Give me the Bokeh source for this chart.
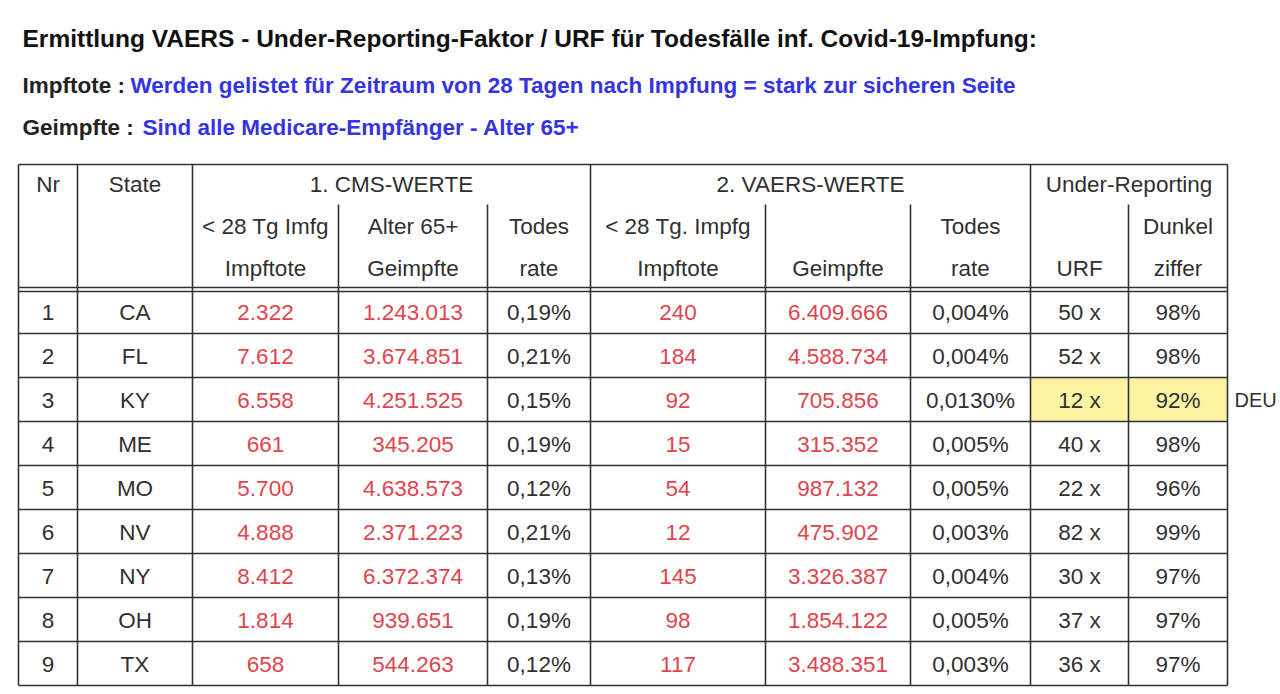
from bokeh.plotting import figure
from bokeh.models import Range1d, ColumnDataSource
from bokeh.core.properties import value
from bokeh.embed import file_html
from bokeh.resources import INLINE

# ---------------- data ----------------
title_text = "Ermittlung VAERS - Under-Reporting-Faktor / URF für Todesfälle inf. Covid-19-Impfung:"
note1_label = "Impftote :"
note1_text = "Werden gelistet für Zeitraum von 28 Tagen nach Impfung = stark zur sicheren Seite"
note2_label = "Geimpfte :"
note2_text = "Sind alle Medicare-Empfänger - Alter 65+"

nr = [1, 2, 3, 4, 5, 6, 7, 8, 9]
states = ["CA", "FL", "KY", "ME", "MO", "NV", "NY", "OH", "TX"]
cms_deaths = [2322, 7612, 6558, 661, 5700, 4888, 8412, 1814, 658]
cms_vaccinated = [1243013, 3674851, 4251525, 345205, 4638573, 2371223, 6372374, 939651, 544263]
cms_rate = [0.19, 0.21, 0.15, 0.19, 0.12, 0.21, 0.13, 0.19, 0.12]
vaers_deaths = [240, 184, 92, 15, 54, 12, 145, 98, 117]
vaers_vaccinated = [6409666, 4588734, 705856, 315352, 987132, 475902, 3326387, 1854122, 3488351]
vaers_rate = ["0,004%", "0,004%", "0,0130%", "0,005%", "0,005%", "0,003%", "0,004%", "0,005%", "0,003%"]
urf = [50, 52, 12, 40, 22, 82, 30, 37, 36]
dunkelziffer = [98, 98, 92, 98, 96, 99, 97, 97, 97]
highlight_state = "KY"
highlight_label = "DEU"

group_headers = ["Nr", "State", "1. CMS-WERTE", "2. VAERS-WERTE", "Under-Reporting"]
sub_header_top = ["< 28 Tg Imfg", "Alter 65+", "Todes", "< 28 Tg. Impfg", "", "Todes", "", "Dunkel"]
sub_header_bottom = ["Impftote", "Geimpfte", "rate", "Impftote", "Geimpfte", "rate", "URF", "ziffer"]

# ---------------- layout ----------------
W, H = 1280, 692
col_edges = [18, 77, 192, 338, 487, 590, 765, 910, 1030, 1128, 1227]
table_top = 164
sub_top = 204
head_bottom = 289
row_h = 44
FONT = value("Liberation Sans")
RED = "#e0444e"
DARK = "#303030"
BLUE = "#3434e2"
FS = "22.5px"

def de(n):
    return f"{n:,}".replace(",", ".")

def pct(x, d=2):
    return f"{x:.{d}f}".replace(".", ",") + "%"

p = figure(width=W, height=H, x_range=Range1d(0, W), y_range=Range1d(H, 0),
           output_backend="svg", toolbar_location=None, min_border=0)
p.axis.visible = False
p.grid.visible = False
p.outline_line_color = None
p.background_fill_color = "white"
p.border_fill_color = "white"

# titles
p.text(x=[22], y=[38], text=[title_text], text_font=FONT, text_font_style="bold",
       text_font_size="24.5px", text_color="#111111", text_baseline="middle", text_align="left")
p.text(x=[22, 22], y=[85, 127], text=[note1_label, note2_label], text_font=FONT,
       text_font_style="bold", text_font_size="22.5px", text_color="#222222",
       text_baseline="middle", text_align="left")
p.text(x=[130, 142], y=[85, 127], text=[note1_text, note2_text], text_font=FONT,
       text_font_style="bold", text_font_size="22.5px", text_color=BLUE,
       text_baseline="middle", text_align="left")

# highlight cells
hi = states.index(highlight_state)
hy0 = head_bottom + row_h * hi
p.quad(left=[col_edges[8]], right=[col_edges[10]], top=[hy0], bottom=[hy0 + row_h],
       fill_color="#fdf3a2", line_color=None)
p.text(x=[1234], y=[hy0 + row_h / 2], text=[highlight_label], text_font=FONT,
       text_font_size="20px", text_color=DARK, text_baseline="middle", text_align="left")

# grid lines
table_bottom = head_bottom + row_h * len(states)
full_v = [col_edges[i] for i in (0, 1, 2, 5, 8, 10)]
part_v = [col_edges[i] for i in (3, 4, 6, 7, 9)]
x0 = full_v + part_v
y0 = [table_top] * len(full_v) + [sub_top] * len(part_v)
y1 = [table_bottom] * (len(full_v) + len(part_v))
p.segment(x0=x0, y0=y0, x1=x0, y1=y1, line_color="#333333", line_width=1.6)
hys = [table_top, head_bottom - 2, head_bottom + 2] + [head_bottom + row_h * k for k in range(1, len(states))] + [table_bottom]
p.segment(x0=[col_edges[0]] * len(hys), y0=hys, x1=[col_edges[-1]] * len(hys), y1=hys,
          line_color="#333333", line_width=1.6)

centers = [(col_edges[i] + col_edges[i + 1]) / 2 for i in range(len(col_edges) - 1)]

# group headers
gx = [centers[0], centers[1], (col_edges[2] + col_edges[5]) / 2,
      (col_edges[5] + col_edges[8]) / 2, (col_edges[8] + col_edges[10]) / 2]
p.text(x=gx, y=[184] * 5, text=group_headers, text_font=FONT, text_font_size=FS,
       text_color=DARK, text_baseline="middle", text_align="center")
p.text(x=centers[2:], y=[226] * 8, text=sub_header_top, text_font=FONT, text_font_size=FS,
       text_color=DARK, text_baseline="middle", text_align="center")
p.text(x=centers[2:], y=[268] * 8, text=sub_header_bottom, text_font=FONT, text_font_size=FS,
       text_color=DARK, text_baseline="middle", text_align="center")

# body
cols = [
    ([str(n) for n in nr], DARK),
    (states, DARK),
    ([de(v) for v in cms_deaths], RED),
    ([de(v) for v in cms_vaccinated], RED),
    ([pct(v) for v in cms_rate], DARK),
    ([de(v) for v in vaers_deaths], RED),
    ([de(v) for v in vaers_vaccinated], RED),
    (vaers_rate, DARK),
    ([f"{v} x" for v in urf], DARK),
    ([f"{v}%" for v in dunkelziffer], DARK),
]
ys = [head_bottom + row_h * (i + 0.5) + 1 for i in range(len(states))]
for ci, (vals, color) in enumerate(cols):
    src = ColumnDataSource(dict(x=[centers[ci]] * len(vals), y=ys, t=vals))
    p.text(x="x", y="y", text="t", source=src, text_font=FONT, text_font_size=FS,
           text_color=color, text_baseline="middle", text_align="center")

open("out.html", "w").write(file_html(p, INLINE))
